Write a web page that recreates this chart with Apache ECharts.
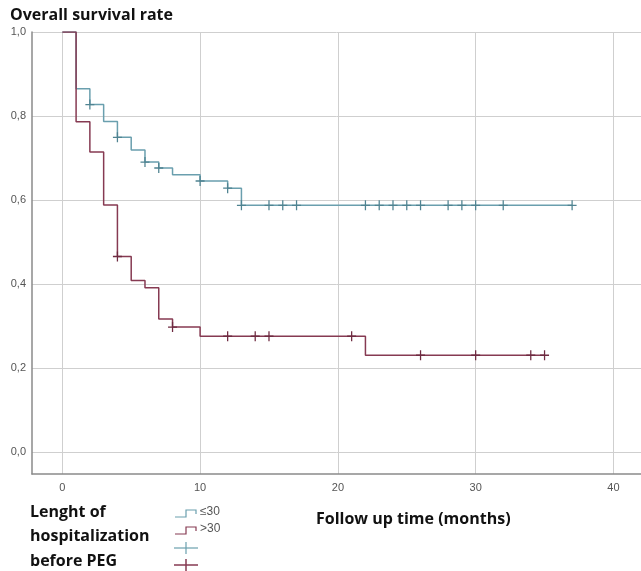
<!DOCTYPE html>
<html><head><meta charset="utf-8">
<script src="https://cdn.jsdelivr.net/npm/echarts@6/dist/echarts.min.js"></script>
<style>html,body{margin:0;padding:0;background:#fff}#c{width:641px;height:571px}</style>
</head><body><div id="c"></div>
<script>
// Kaplan-Meier steps: [month, survival]
const lowTimes = [0, 1, 2, 3, 4, 5, 6, 7, 8, 10, 12, 13, 37];
const lowSurv  = [1.0, 0.865, 0.827, 0.787, 0.749, 0.719, 0.690, 0.676, 0.660, 0.645, 0.628, 0.587, 0.587];
const lowCensT = [2, 4, 6, 7, 10, 12, 13, 15, 16, 17, 22, 23, 24, 25, 26, 28, 29, 30, 32, 37];
const highTimes = [0, 1, 2, 3, 4, 5, 6, 7, 8, 10, 22, 35];
const highSurv  = [1.0, 0.786, 0.714, 0.588, 0.465, 0.408, 0.391, 0.316, 0.297, 0.275, 0.230, 0.230];
const highCensT = [4, 8, 12, 14, 15, 21, 26, 30, 34, 35];
const xTicks = [0, 10, 20, 30, 40];
const yTicks = [0, 0.2, 0.4, 0.6, 0.8, 1.0];

function survAt(times, surv, t) {
  let s = surv[0];
  for (let i = 0; i < times.length; i++) { if (times[i] <= t) s = surv[i]; }
  return s;
}
const lowLine = lowTimes.map((t, i) => [t, lowSurv[i]]);
const highLine = highTimes.map((t, i) => [t, highSurv[i]]);
const lowCens = lowCensT.map(t => [t, survAt(lowTimes, lowSurv, t)]);
const highCens = highCensT.map(t => [t, survAt(highTimes, highSurv, t)]);

const blue = '#6a9fae', blueD = '#4f8391';
const red = '#863a52', redD = '#6e2a40';
const plus = 'path://M4.3,0h1.4v10h-1.4z M0,4.3h10v1.4h-10z';

const chart = echarts.init(document.getElementById('c'));
chart.setOption({
  animation: false,
  backgroundColor: '#fff',
  grid: { left: 32, right: 0, top: 32, bottom: 97 },
  xAxis: {
    type: 'value', min: -2.2, max: 42,
    axisLine: { show: true, onZero: false, lineStyle: { color: '#8a8a8a', width: 1.5 } },
    axisTick: { show: false, customValues: xTicks },
    axisLabel: { customValues: xTicks, color: '#555', fontSize: 11, fontFamily: 'Liberation Sans', margin: 8 },
    splitLine: { show: true, lineStyle: { color: '#cfcfcf', width: 1 } }
  },
  yAxis: {
    type: 'value', min: -0.053, max: 1.0,
    axisLine: { show: true, onZero: false, lineStyle: { color: '#8a8a8a', width: 1.5 } },
    axisTick: { show: false, customValues: yTicks },
    axisLabel: { customValues: yTicks, color: '#555', fontSize: 11, fontFamily: 'Liberation Sans', margin: 6,
      formatter: v => v.toFixed(1).replace('.', ',') },
    splitLine: { show: true, lineStyle: { color: '#cfcfcf', width: 1 } }
  },
  series: [
    { name: '≤30', type: 'line', step: 'end', data: lowLine, showSymbol: false,
      lineStyle: { color: blue, width: 1.5 }, z: 3 },
    { name: '>30', type: 'line', step: 'end', data: highLine, showSymbol: false,
      lineStyle: { color: red, width: 1.5 }, z: 3 },
    { name: 'c1', type: 'scatter', data: lowCens, symbol: plus, symbolSize: [9, 10],
      itemStyle: { color: blueD, opacity: 1 }, z: 4 },
    { name: 'c2', type: 'scatter', data: highCens, symbol: plus, symbolSize: [9, 10],
      itemStyle: { color: redD, opacity: 1 }, z: 4 }
  ],
  graphic: [
    { type: 'text', left: 10, top: 7, style: { text: 'Overall survival rate', font: 'bold 16px "Open Sans"', fill: '#111' } },
    { type: 'text', left: 30, top: 500, style: { text: 'Lenght of\nhospitalization\nbefore PEG', font: 'bold 16px "Open Sans"', lineHeight: 24.5, fill: '#111' } },
    { type: 'text', left: 316, top: 511, style: { text: 'Follow up time (months)', font: 'bold 16px "Open Sans"', fill: '#111' } },
    { type: 'polyline', shape: { points: [[175, 517], [186, 517], [186, 510], [196, 510], [196, 514]] }, style: { stroke: blue, lineWidth: 1.2, fill: null } },
    { type: 'text', left: 200, top: 506, style: { text: '≤30', font: '12px "Liberation Sans"', fill: '#555' } },
    { type: 'polyline', shape: { points: [[175, 534], [186, 534], [186, 527], [196, 527], [196, 531]] }, style: { stroke: red, lineWidth: 1.2, fill: null } },
    { type: 'text', left: 200, top: 523, style: { text: '>30', font: '12px "Liberation Sans"', fill: '#555' } },
    { type: 'line', shape: { x1: 174, y1: 548, x2: 198, y2: 548 }, style: { stroke: blue, lineWidth: 1.2 } },
    { type: 'line', shape: { x1: 186, y1: 542, x2: 186, y2: 554 }, style: { stroke: blue, lineWidth: 1.2 } },
    { type: 'line', shape: { x1: 174, y1: 565, x2: 198, y2: 565 }, style: { stroke: red, lineWidth: 1.5 } },
    { type: 'line', shape: { x1: 186, y1: 559, x2: 186, y2: 571 }, style: { stroke: red, lineWidth: 1.5 } }
  ]
});
</script></body></html>
